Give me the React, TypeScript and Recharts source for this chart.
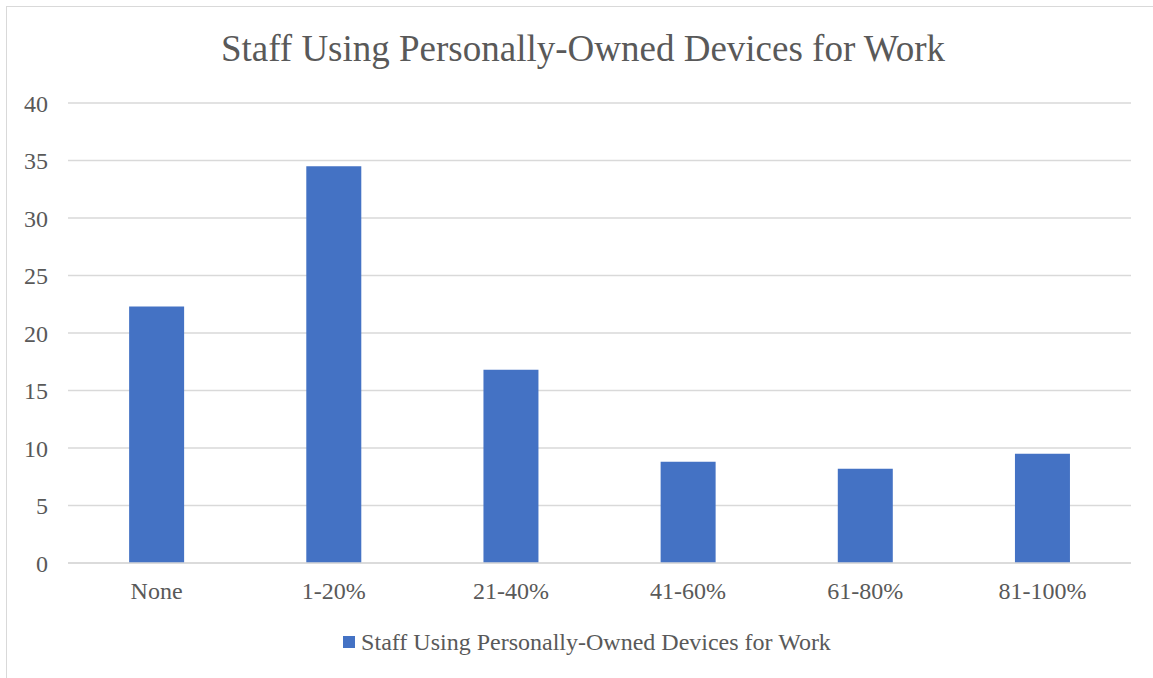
import { BarChart, Bar, XAxis, YAxis, CartesianGrid } from "recharts";

const categories = ["None", "1-20%", "21-40%", "41-60%", "61-80%", "81-100%"];
const staffValues = [22.3, 34.5, 16.8, 8.8, 8.2, 9.5];
const yTicks = [0, 5, 10, 15, 20, 25, 30, 35, 40];

const SERIES_NAME = "Staff Using Personally-Owned Devices for Work";
const BAR_COLOR = "#4472C4";
const GRID_COLOR = "#d9d9d9";
const TEXT_COLOR = "#595959";
const FONT = "'Liberation Serif', 'Times New Roman', serif";

const data = categories.map((c, i) => ({ category: c, value: staffValues[i] }));

export default function App() {
  return (
    <div
      style={{
        position: "absolute",
        left: 0,
        top: 0,
        width: 1153,
        height: 678,
        overflow: "hidden",
        background: "#fff",
        fontFamily: FONT,
      }}
    >
      {/* chart frame, cut off at the right and bottom edges */}
      <div
        style={{
          position: "absolute",
          left: 6,
          top: 6,
          width: 1170,
          height: 700,
          border: `1px solid ${GRID_COLOR}`,
        }}
      />
      <div
        style={{
          position: "absolute",
          left: 0,
          top: 25,
          width: 1166,
          textAlign: "center",
          fontSize: 37,
          lineHeight: "48px",
          color: TEXT_COLOR,
        }}
      >
        {SERIES_NAME}
      </div>
      <div style={{ position: "absolute", left: 0, top: 0 }}>
        <BarChart
          width={1153}
          height={678}
          data={data}
          margin={{ top: 103, right: 22, bottom: 85, left: 8 }}
          barCategoryGap="34.5%"
        >
          <CartesianGrid vertical={false} stroke={GRID_COLOR} strokeWidth={1.5} />
          <XAxis
            dataKey="category"
            height={30}
            axisLine={{ stroke: GRID_COLOR, strokeWidth: 1.5 }}
            tickLine={false}
            tickSize={0}
            tickMargin={19}
            tick={{ fontSize: 24, fill: TEXT_COLOR, fontFamily: FONT }}
          />
          <YAxis
            width={60}
            domain={[0, 40]}
            ticks={yTicks}
            axisLine={false}
            tickLine={false}
            tickSize={0}
            tickMargin={20}
            tick={{ fontSize: 24, fill: TEXT_COLOR, fontFamily: FONT }}
          />
          <Bar dataKey="value" name={SERIES_NAME} fill={BAR_COLOR} isAnimationActive={false} />
        </BarChart>
      </div>
      <div
        style={{
          position: "absolute",
          left: 0,
          top: 627,
          width: 1174,
          display: "flex",
          justifyContent: "center",
          alignItems: "center",
          fontSize: 24,
          lineHeight: "30px",
          color: TEXT_COLOR,
        }}
      >
        <span
          style={{
            display: "inline-block",
            width: 12,
            height: 12,
            background: BAR_COLOR,
            marginRight: 6,
          }}
        />
        <span>{SERIES_NAME}</span>
      </div>
    </div>
  );
}
